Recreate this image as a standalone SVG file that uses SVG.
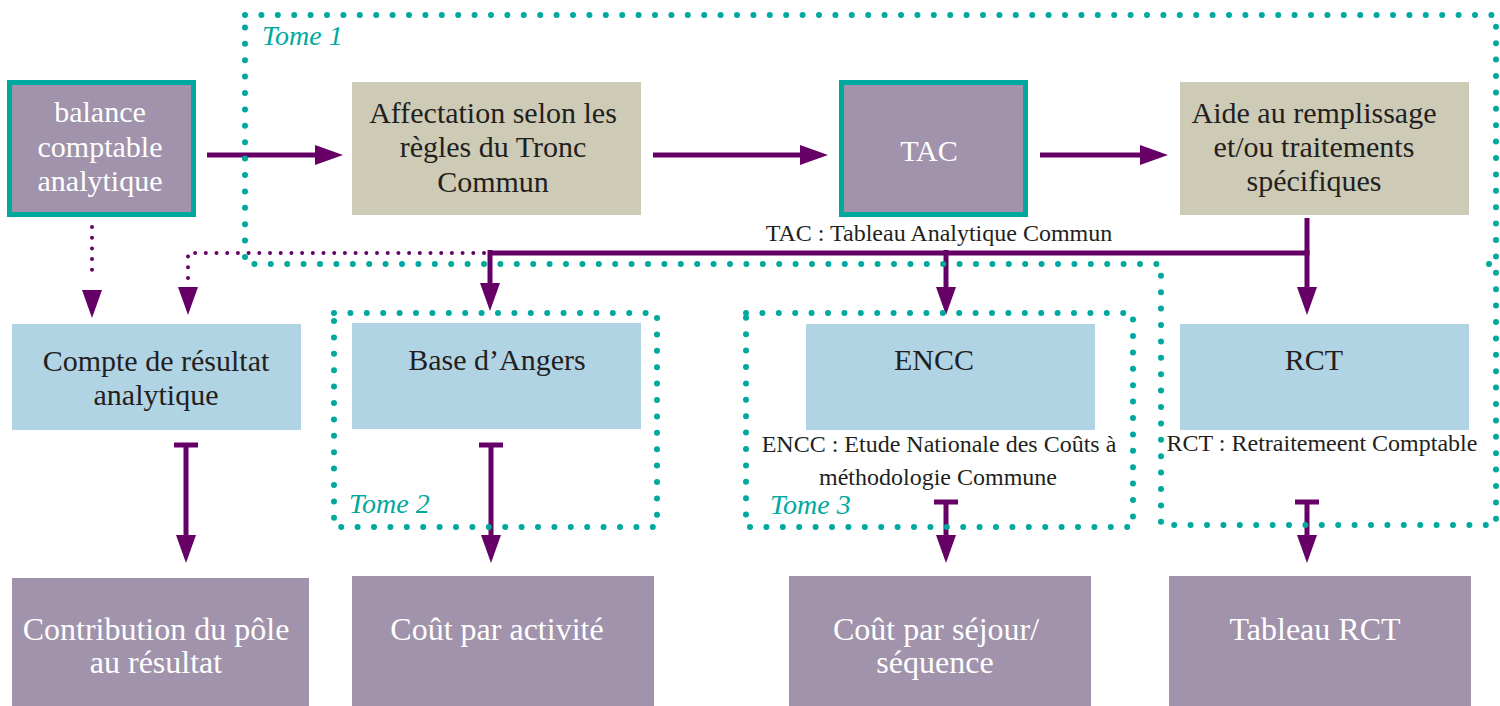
<svg xmlns="http://www.w3.org/2000/svg" width="1500" height="706" viewBox="0 0 1500 706">
<style>
text{font-family:"Liberation Serif","Times New Roman",serif;text-anchor:middle}
.t{font-size:30px;fill:#231f20}
.tw{font-size:30px;fill:#ffffff}
.tb{font-size:32px;fill:#ffffff}
.lab{font-size:24px;fill:#231f20}
.tome{font-size:28px;font-style:italic;fill:#00a99d;text-anchor:start}
.beige{fill:#cdcab6}
.blue{fill:#b1d4e5}
.mauve{fill:#a093ab}
.key{fill:#a093ab;stroke:#00a99d;stroke-width:5}
.con{fill:none;stroke:#660066;stroke-width:5}
.dotp{fill:none;stroke:#660066;stroke-width:4;stroke-linecap:round;stroke-dasharray:0 10.7}
.dott{fill:none;stroke:#00a99d;stroke-width:6;stroke-linecap:round;stroke-dasharray:0 16.4}
</style>
<defs>
<marker id="ah" markerUnits="userSpaceOnUse" markerWidth="28" markerHeight="20" viewBox="0 0 28 20" refX="0" refY="10" orient="auto">
<path d="M0,0 L28,10 L0,20 Z" fill="#660066"/>
</marker>
</defs>

<g id="balance">
<rect class="key" x="9.5" y="82.5" width="184" height="132"/>
<text class="tw" x="100" y="122">balance</text>
<text class="tw" x="100" y="157">comptable</text>
<text class="tw" x="100" y="191">analytique</text>
</g>
<g id="affectation">
<rect class="beige" x="352" y="82" width="289" height="133"/>
<text class="t" x="493" y="123">Affectation selon les</text>
<text class="t" x="493" y="157">règles du Tronc</text>
<text class="t" x="493" y="192">Commun</text>
</g>
<g id="tac">
<rect class="key" x="841.5" y="82.5" width="184" height="132"/>
<text class="tw" x="929" y="161">TAC</text>
</g>
<g id="aide">
<rect class="beige" x="1180" y="82" width="289" height="133"/>
<text class="t" x="1314" y="123">Aide au remplissage</text>
<text class="t" x="1314" y="157">et/ou traitements</text>
<text class="t" x="1314" y="191">spécifiques</text>
</g>
<g id="tac-label">
<text class="lab" x="939" y="241">TAC : Tableau Analytique Commun</text>
</g>

<g id="compte">
<rect class="blue" x="12" y="324" width="289" height="106"/>
<text class="t" x="156" y="371">Compte de résultat</text>
<text class="t" x="156" y="405">analytique</text>
</g>
<g id="angers">
<rect class="blue" x="352" y="323" width="289" height="106"/>
<text class="t" x="497" y="370">Base d’Angers</text>
</g>
<g id="encc">
<rect class="blue" x="806" y="324" width="289" height="106"/>
<text class="t" x="934" y="370">ENCC</text>
<text class="lab" x="939" y="452">ENCC : Etude Nationale des Coûts à</text>
<text class="lab" x="938" y="485">méthodologie Commune</text>
</g>
<g id="rct">
<rect class="blue" x="1180" y="324" width="289" height="106"/>
<text class="t" x="1314" y="370">RCT</text>
<text class="lab" x="1322" y="451">RCT : Retraitemeent Comptable</text>
</g>

<g id="contribution">
<rect class="mauve" x="12" y="578" width="297" height="128"/>
<text class="tb" x="156" y="640">Contribution du pôle</text>
<text class="tb" x="156" y="673">au résultat</text>
</g>
<g id="cout-activite">
<rect class="mauve" x="352" y="576" width="302" height="130"/>
<text class="tb" x="497" y="640">Coût par activité</text>
</g>
<g id="cout-sejour">
<rect class="mauve" x="789" y="576" width="302" height="130"/>
<text class="tb" x="936" y="640">Coût par séjour/</text>
<text class="tb" x="935" y="673">séquence</text>
</g>
<g id="tableau-rct">
<rect class="mauve" x="1169" y="576" width="302" height="130"/>
<text class="tb" x="1315" y="640">Tableau RCT</text>
</g>

<g id="connectors">
<path class="con" d="M207,155 H315" marker-end="url(#ah)"/>
<path class="con" d="M653,155 H800" marker-end="url(#ah)"/>
<path class="con" d="M1040,155 H1140" marker-end="url(#ah)"/>
<path class="dotp" d="M92,227 V280"/>
<path d="M82,290 L102,290 L92,318 Z" fill="#660066"/>
<path class="dotp" d="M484,253 H188 V278"/>
<path d="M178,287 L198,287 L188,315 Z" fill="#660066"/>
<path class="con" d="M1307,218 V253 H490"/>
<path class="con" d="M1307,250 V287" marker-end="url(#ah)"/>
<path class="con" d="M490,250 V283" marker-end="url(#ah)"/>
<path class="con" d="M946,250 V287" marker-end="url(#ah)"/>
<path class="con" d="M174,445 H198 M186,445 V535" marker-end="url(#ah)"/>
<path class="con" d="M479,445 H503 M491,445 V535" marker-end="url(#ah)"/>
<path class="con" d="M934,502 H958 M946,502 V535" marker-end="url(#ah)"/>
<path class="con" d="M1295,502 H1319 M1307,502 V535" marker-end="url(#ah)"/>
</g>

<g id="tomes">
<path class="dott" d="M245,15 H1496 V525 H1161 V264 H245 Z"/>
<circle cx="1489" cy="264" r="3" fill="#00a99d"/>
<text class="tome" x="262" y="45">Tome 1</text>
<path class="dott" d="M334,313 H657 V527 H334 Z"/>
<text class="tome" x="349" y="513">Tome 2</text>
<path class="dott" d="M746,313 H1133 V527 H746 Z"/>
<text class="tome" x="770" y="514">Tome 3</text>
</g>
</svg>
